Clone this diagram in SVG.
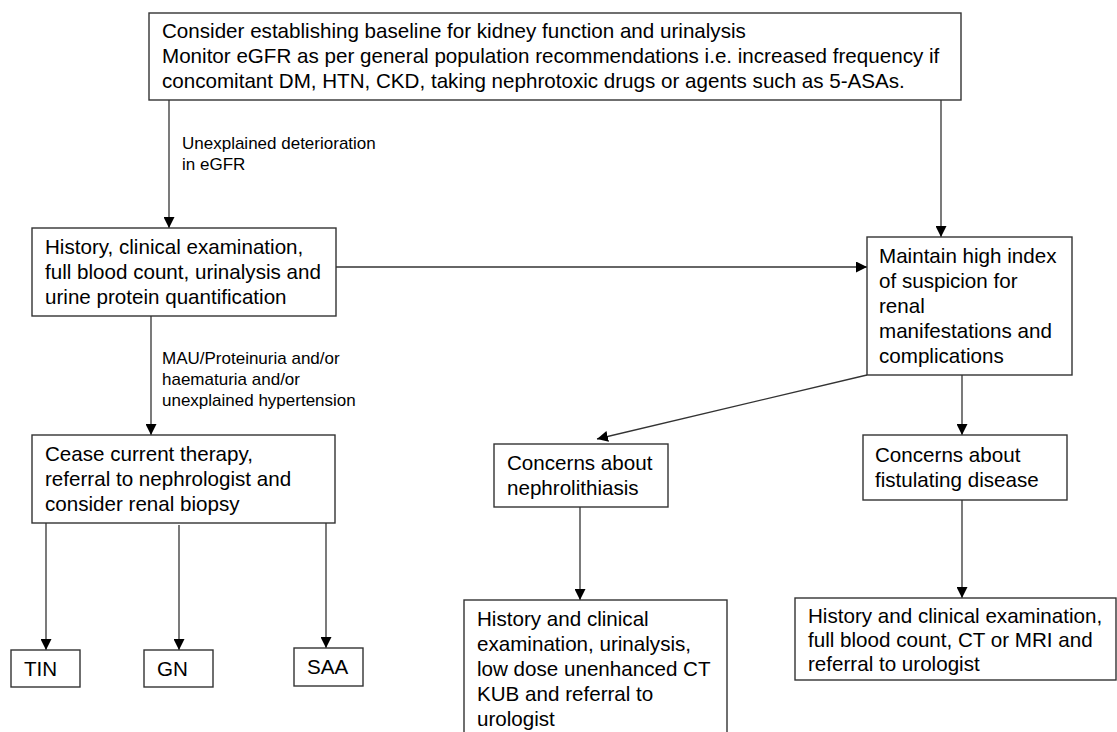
<svg xmlns="http://www.w3.org/2000/svg" width="1117" height="732" viewBox="0 0 1117 732">
<style>
.box{fill:#fff;stroke:#333;stroke-width:1.4}
.t{font-family:"Liberation Sans",Arial,sans-serif;font-size:20.6px;fill:#000}
.lbl{font-family:"Liberation Sans",Arial,sans-serif;font-size:17px;fill:#000}
.c{fill:none;stroke:#333;stroke-width:1.3}
</style>
<defs>
<marker id="ah" markerUnits="userSpaceOnUse" markerWidth="11" markerHeight="11" refX="11" refY="5.5" orient="auto">
<path d="M0,0 L11,5.5 L0,11 z" fill="#000"/>
</marker>
</defs>
<rect width="1117" height="732" fill="#fff"/>
<g id="connectors">
<line class="c" x1="169" y1="100" x2="169" y2="228" marker-end="url(#ah)"/>
<line class="c" x1="941" y1="100" x2="941" y2="237" marker-end="url(#ah)"/>
<line class="c" x1="336" y1="267" x2="867" y2="267" marker-end="url(#ah)"/>
<line class="c" x1="151" y1="316" x2="151" y2="435" marker-end="url(#ah)"/>
<line class="c" x1="46" y1="523" x2="46" y2="650" marker-end="url(#ah)"/>
<line class="c" x1="179" y1="525" x2="179" y2="650" marker-end="url(#ah)"/>
<line class="c" x1="326" y1="523" x2="326" y2="648" marker-end="url(#ah)"/>
<line class="c" x1="867" y1="375" x2="597" y2="439" marker-end="url(#ah)"/>
<line class="c" x1="962" y1="375" x2="962" y2="435" marker-end="url(#ah)"/>
<line class="c" x1="580" y1="507" x2="580" y2="600" marker-end="url(#ah)"/>
<line class="c" x1="962" y1="500" x2="962" y2="598" marker-end="url(#ah)"/>
<text class="lbl" x="182" y="149">Unexplained deterioration</text>
<text class="lbl" x="182" y="170">in eGFR</text>
<text class="lbl" x="162" y="364">MAU/Proteinuria and/or</text>
<text class="lbl" x="162" y="385">haematuria and/or</text>
<text class="lbl" x="162" y="406">unexplained hypertension</text>
</g>
<g id="top">
<rect class="box" x="149" y="13" width="812" height="87"/>
<text class="t" x="162" y="38">Consider establishing baseline for kidney function and urinalysis</text>
<text class="t" x="162" y="63">Monitor eGFR as per general population recommendations i.e. increased frequency if</text>
<text class="t" x="162" y="88">concomitant DM, HTN, CKD, taking nephrotoxic drugs or agents such as 5-ASAs.</text>
</g>
<g id="history">
<rect class="box" x="32" y="228" width="304" height="88"/>
<text class="t" x="45" y="254">History, clinical examination,</text>
<text class="t" x="45" y="279">full blood count, urinalysis and</text>
<text class="t" x="45" y="304">urine protein quantification</text>
</g>
<g id="maintain">
<rect class="box" x="867" y="237" width="205" height="138"/>
<text class="t" x="879" y="263">Maintain high index</text>
<text class="t" x="879" y="288">of suspicion for</text>
<text class="t" x="879" y="313">renal</text>
<text class="t" x="879" y="338">manifestations and</text>
<text class="t" x="879" y="363">complications</text>
</g>
<g id="cease">
<rect class="box" x="32" y="435" width="303" height="88"/>
<text class="t" x="45" y="461">Cease current therapy,</text>
<text class="t" x="45" y="486">referral to nephrologist and</text>
<text class="t" x="45" y="511">consider renal biopsy</text>
</g>
<g id="tin">
<rect class="box" x="11" y="650" width="69" height="37"/>
<text class="t" x="24" y="676">TIN</text>
</g>
<g id="gn">
<rect class="box" x="144" y="650" width="69" height="37"/>
<text class="t" x="157" y="676">GN</text>
</g>
<g id="saa">
<rect class="box" x="294" y="648" width="69" height="38"/>
<text class="t" x="307" y="674">SAA</text>
</g>
<g id="nephro">
<rect class="box" x="494" y="444" width="174" height="63"/>
<text class="t" x="507" y="470">Concerns about</text>
<text class="t" x="507" y="495">nephrolithiasis</text>
</g>
<g id="fistula">
<rect class="box" x="863" y="435" width="204" height="65"/>
<text class="t" x="875" y="462">Concerns about</text>
<text class="t" x="875" y="487">fistulating disease</text>
</g>
<g id="nephro-workup">
<rect class="box" x="464" y="600" width="263" height="150"/>
<text class="t" x="477" y="626">History and clinical</text>
<text class="t" x="477" y="651">examination, urinalysis,</text>
<text class="t" x="477" y="676">low dose unenhanced CT</text>
<text class="t" x="477" y="701">KUB and referral to</text>
<text class="t" x="477" y="726">urologist</text>
</g>
<g id="fistula-workup">
<rect class="box" x="795" y="598" width="321" height="82"/>
<text class="t" x="808" y="623">History and clinical examination,</text>
<text class="t" x="808" y="647">full blood count, CT or MRI and</text>
<text class="t" x="808" y="671">referral to urologist</text>
</g>
</svg>
